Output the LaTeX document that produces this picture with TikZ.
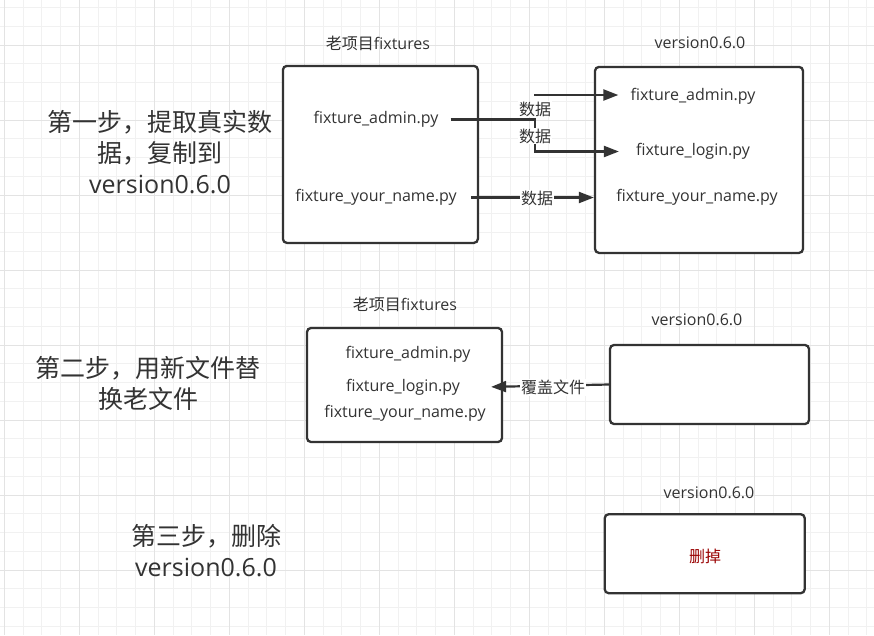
\documentclass[tikz,border=0pt]{standalone}
\usepackage{fontspec}
\setmainfont{Open Sans}
\newfontfamily\cjk{Noto Sans CJK SC}
\usetikzlibrary{arrows.meta}
\definecolor{linegray}{HTML}{333333}
\definecolor{gridminor}{HTML}{F1F1F1}
\definecolor{gridmajor}{HTML}{E3E3E3}
\definecolor{delred}{HTML}{990000}

\begin{document}
\begin{tikzpicture}[x=1pt, y=-1pt,
    box/.style={draw=linegray, line width=2.3pt, rounded corners=4pt, fill=white, rectangle},
    file/.style={inner sep=0pt, yshift=-1.5pt, text=linegray, font=\fontsize{16}{19}\selectfont},
    stepnote/.style={inner sep=0pt, text=linegray, align=center, font=\fontsize{25}{31}\selectfont},
    lbl/.style={fill=white, inner sep=1pt, yshift=-1pt, text=linegray, font=\cjk\fontsize{16}{19}\selectfont},
    flow/.style={draw=linegray, line width=2.2pt, -{Triangle[length=15pt, width=11pt]}}]
    \useasboundingbox (0,0) rectangle (874,635);
    \fill[white] (0,0) rectangle (874,635);

    % background grid
    \foreach \gx in {4.3,23.05,...,874} \draw[gridminor, line width=1pt] (\gx,0) -- (\gx,635);
    \foreach \gy in {7.5,26.25,...,635} \draw[gridminor, line width=1pt] (0,\gy) -- (874,\gy);
    \foreach \gx in {4.3,79.3,...,874} \draw[gridmajor, line width=1pt] (\gx,0) -- (\gx,635);
    \foreach \gy in {45,120,...,635} \draw[gridmajor, line width=1pt] (0,\gy) -- (874,\gy);

    % step one: copy the real data
    \node[stepnote] (step1) at (160,152) {{\cjk 第一步，提取真实数}\\{\cjk 据，复制到}\\version0.6.0};
    \node[file] (t1) at (378,42) {{\cjk 老项目}fixtures};
    \node[box, minimum width=195pt, minimum height=177pt] (b1) at (380.4,154.4) {};
    \node[file] (a1) at (376,118) {fixture\_admin.py};
    \node[file] (y1) at (376,196) {fixture\_your\_name.py};

    \node[file] (t2) at (700,41) {version0.6.0};
    \node[box, minimum width=208pt, minimum height=186pt] (b2) at (699,159.9) {};
    \node[file] (a2) at (693,95) {fixture\_admin.py};
    \node[file] (l2) at (693,150) {fixture\_login.py};
    \node[file] (y2) at (697,196) {fixture\_your\_name.py};

    \coordinate (src1) at (534,95);
    \coordinate (j1) at (535,135);
    \draw[flow, shorten >=12pt] (src1) -- (src1 -| a2.west);
    \draw[flow, shorten <=12pt, shorten >=17pt] (a1.east) -| (j1) |- (l2.west);
    \draw[flow, shorten <=14pt] (y1.east) -- (y1.east -| b2.west);
    \node[lbl] (d1) at (535,108) {数据};
    \node[lbl] (d2) at (j1) {数据};
    \node[lbl] (d3) at (537,197) {数据};

    % step two: overwrite the old files
    \node[stepnote] (step2) at (148,383) {{\cjk 第二步，用新文件替}\\{\cjk 换老文件}};
    \node[file] (t3) at (405,303) {{\cjk 老项目}fixtures};
    \node[box, minimum width=195pt, minimum height=114pt] (b3) at (404.5,385) {};
    \node[file] (a3) at (408,353) {fixture\_admin.py};
    \node[file] (l3) at (403,386) {fixture\_login.py};
    \node[file] (y3) at (405,412) {fixture\_your\_name.py};

    \node[file] (t4) at (697,318) {version0.6.0};
    \node[box, minimum width=199pt, minimum height=79pt] (b4) at (709.5,384.5) {};
    \draw[flow, shorten >=31pt] (b4.west) -- (l3.east);
    \node[lbl] (cover) at (553,386.5) {覆盖文件};

    % step three: delete the copy
    \node[stepnote] (step3) at (206,551) {{\cjk 第三步，删除}\\version0.6.0};
    \node[file] (t5) at (709,491) {version0.6.0};
    \node[box, minimum width=200pt, minimum height=79pt] (b5) at (704.7,553.7) {};
    \node[file, text=delred, font=\cjk\fontsize{16}{19}\selectfont] (del) at (705,555) {删掉};
\end{tikzpicture}
\end{document}
